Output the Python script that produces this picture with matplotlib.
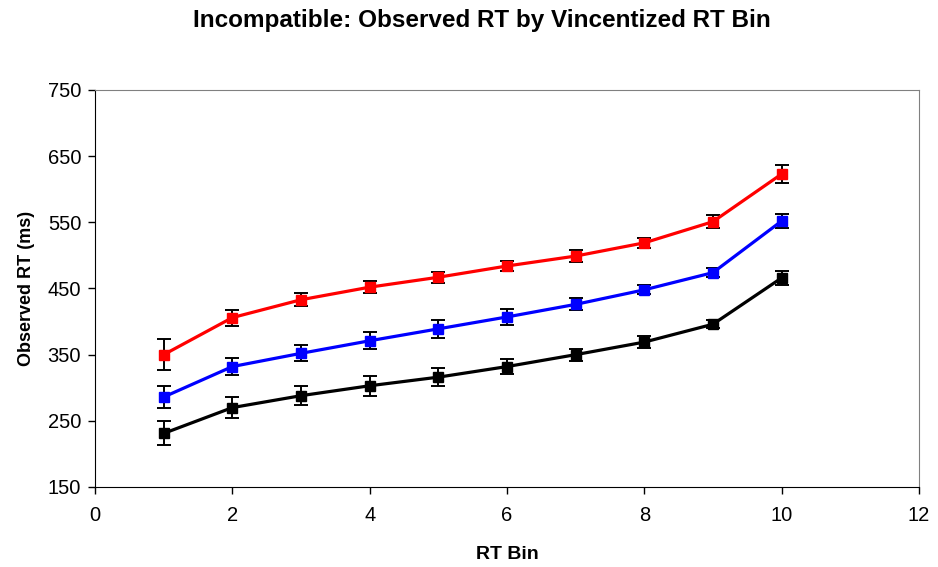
import numpy as np
import matplotlib.pyplot as plt

plt.rcParams['font.family'] = ['Liberation Sans', 'DejaVu Sans']

bins = [1, 2, 3, 4, 5, 6, 7, 8, 9, 10]

# observed RT (ms) per vincentized bin, with error bar half-widths
rt_red = [350, 406, 433, 452, 467, 484, 499, 519, 551, 623]
err_red = [23, 12, 10, 9, 8, 8, 9, 8, 10, 14]
rt_blue = [286, 332, 352, 371, 389, 407, 426, 448, 474, 552]
err_blue = [17, 13, 12, 13, 14, 12, 9, 7, 7, 11]
rt_black = [231, 270, 288, 303, 316, 332, 350, 369, 396, 466]
err_black = [18, 16, 14, 15, 14, 11, 9, 9, 6, 10]

series = [(rt_red, err_red, "#ff0000"),
          (rt_blue, err_blue, "#0000ff"),
          (rt_black, err_black, "#000000")]

fig = plt.figure(figsize=(9.38, 5.67), dpi=100)
ax = fig.add_axes([0.1013, 0.1411, 0.8784, 0.7002])

for rt, err, col in series:
    ax.errorbar(bins, rt, yerr=err, fmt='none', ecolor='black',
                elinewidth=1.4, capsize=4.7, capthick=1.4, zorder=2)
    ax.plot(bins, rt, color=col, lw=2.3, marker='s', ms=7.5,
            mfc=col, mec=col, zorder=3)

ax.set_xlim(0, 12)
ax.set_ylim(150, 750)
ax.set_xticks(np.arange(0, 13, 2))
ax.set_yticks(np.arange(150, 751, 100))
ax.tick_params(axis='both', labelsize=14.5, direction='out', length=5, width=1)
ax.tick_params(axis='x', pad=9)
ax.tick_params(axis='y', pad=5)
ax.spines['top'].set_color('#808080')
ax.spines['right'].set_color('#808080')
for s in ['left', 'bottom']:
    ax.spines[s].set_color('black')

ax.set_xlabel("RT Bin", fontsize=14, fontweight='bold', labelpad=15)
ax.set_ylabel("Observed RT (ms)", fontsize=13, fontweight='bold', labelpad=9)
fig.text(0.514, 0.963, "Incompatible: Observed RT by Vincentized RT Bin",
         fontsize=17.5, fontweight='bold', ha='center', va='center')

fig.savefig("out.png", dpi=100)
